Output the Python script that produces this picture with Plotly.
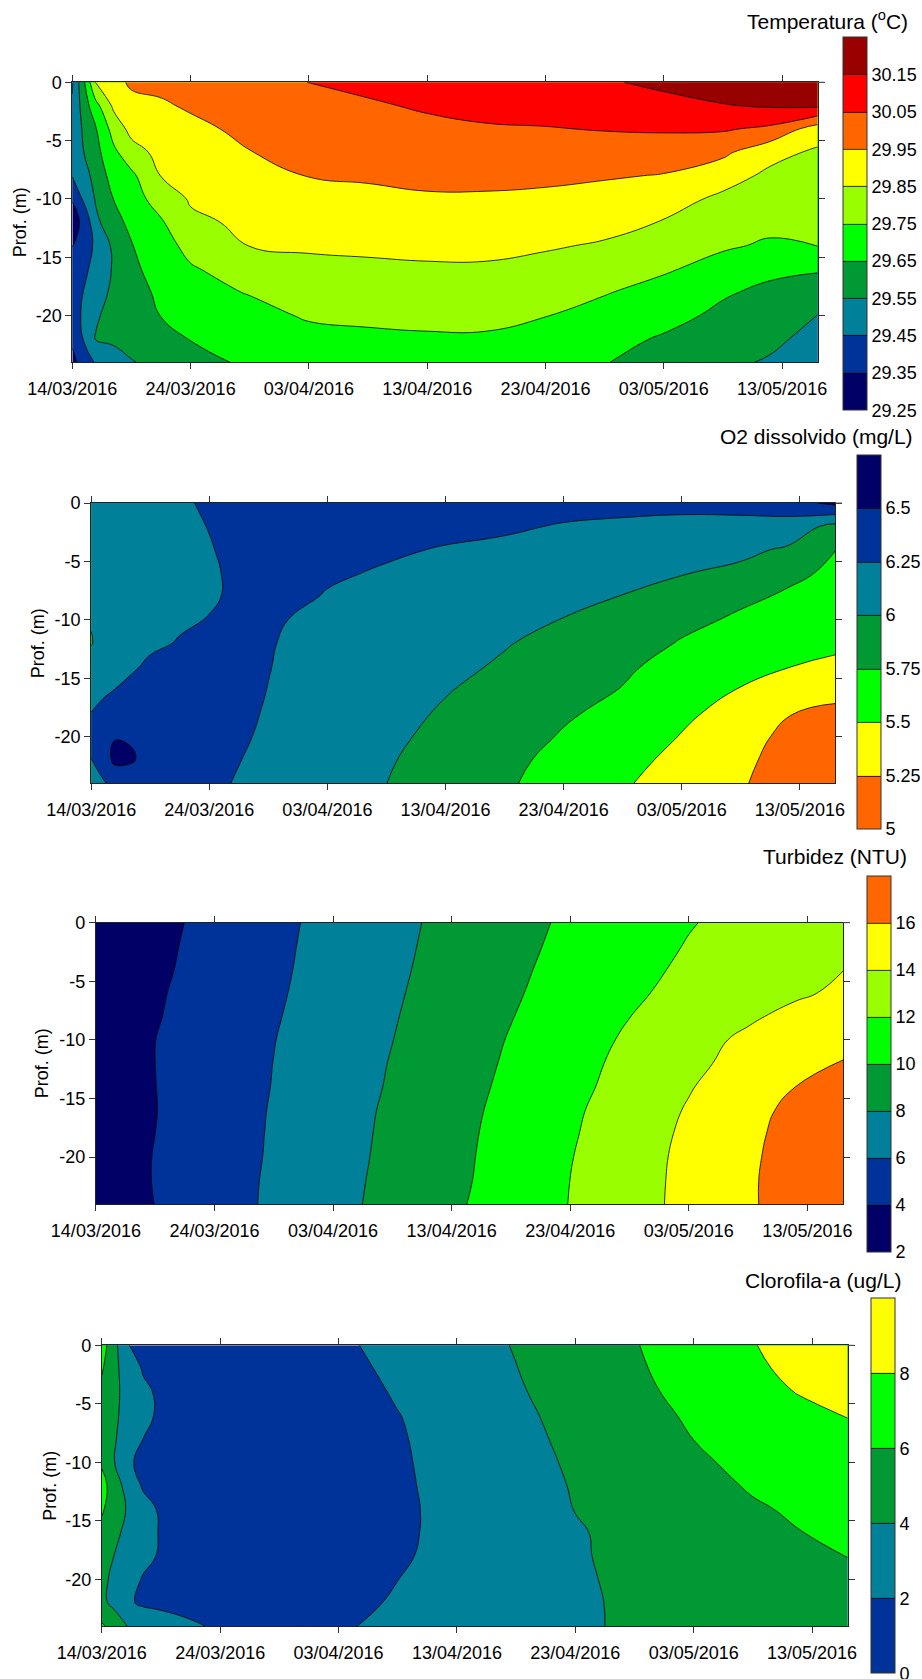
import plotly.graph_objects as go

# ---------------- data ----------------
DATES = ["2016-03-14", "2016-03-15", "2016-03-16", "2016-03-17 12:00", "2016-03-19",
         "2016-03-21 12:00", "2016-03-24", "2016-03-29", "2016-04-03", "2016-04-08",
         "2016-04-13", "2016-04-18", "2016-04-23", "2016-04-28", "2016-05-03",
         "2016-05-08", "2016-05-12", "2016-05-16"]
DEPTHS = [0, -2, -4, -6, -8, -10, -12, -14, -16, -18, -20, -22, -24]

TICK_DATES = ["2016-03-14", "2016-03-24", "2016-04-03", "2016-04-13",
              "2016-04-23", "2016-05-03", "2016-05-13"]
TICK_LABELS = ["14/03/2016", "24/03/2016", "03/04/2016", "13/04/2016",
               "23/04/2016", "03/05/2016", "13/05/2016"]
DEPTH_TICKS = [0, -5, -10, -15, -20]
DEPTH_LABELS = ["0", "-5", "-10", "-15", "-20"]

TEMP = [
    [29.44, 29.64, 29.86, 29.93, 29.96, 29.97, 29.99, 30.02, 30.051, 30.07, 30.10, 30.12, 30.13, 30.14, 30.17, 30.20, 30.21, 30.22],
    [29.46, 29.60, 29.72, 29.87, 29.93, 29.94, 29.96, 29.99, 30.03, 30.04, 30.06, 30.08, 30.09, 30.10, 30.12, 30.145, 30.16, 30.17],
    [29.47, 29.57, 29.645, 29.79, 29.88, 29.91, 29.93, 29.97, 30.00, 30.02, 30.03, 30.04, 30.045, 30.055, 30.06, 30.06, 30.03, 29.90],
    [29.47, 29.552, 29.62, 29.73, 29.81, 29.88, 29.90, 29.948, 29.975, 29.99, 30.00, 30.00, 30.01, 30.00, 30.00, 29.97, 29.88, 29.835],
    [29.455, 29.51, 29.59, 29.69, 29.73, 29.853, 29.88, 29.93, 29.952, 29.96, 29.97, 29.97, 29.97, 29.96, 29.945, 29.89, 29.83, 29.82],
    [29.355, 29.47, 29.56, 29.652, 29.71, 29.79, 29.86, 29.90, 29.92, 29.93, 29.94, 29.94, 29.93, 29.91, 29.89, 29.83, 29.80, 29.79],
    [29.32, 29.37, 29.53, 29.61, 29.68, 29.74, 29.83, 29.87, 29.89, 29.90, 29.90, 29.90, 29.90, 29.88, 29.845, 29.79, 29.77, 29.77],
    [29.348, 29.40, 29.47, 29.57, 29.645, 29.71, 29.78, 29.852, 29.86, 29.865, 29.87, 29.87, 29.86, 29.84, 29.80, 29.76, 29.74, 29.752],
    [29.38, 29.43, 29.485, 29.56, 29.63, 29.69, 29.74, 29.80, 29.83, 29.835, 29.84, 29.84, 29.82, 29.80, 29.76, 29.72, 29.67, 29.66],
    [29.40, 29.455, 29.51, 29.57, 29.61, 29.67, 29.72, 29.755, 29.79, 29.80, 29.80, 29.80, 29.79, 29.755, 29.72, 29.66, 29.63, 29.60],
    [29.40, 29.47, 29.54, 29.58, 29.60, 29.652, 29.69, 29.72, 29.76, 29.77, 29.77, 29.77, 29.752, 29.72, 29.68, 29.63, 29.60, 29.548],
    [29.37, 29.46, 29.555, 29.57, 29.58, 29.61, 29.653, 29.69, 29.72, 29.73, 29.74, 29.74, 29.72, 29.68, 29.64, 29.60, 29.57, 29.52],
    [29.32, 29.40, 29.46, 29.50, 29.545, 29.575, 29.62, 29.665, 29.69, 29.69, 29.70, 29.70, 29.69, 29.655, 29.60, 29.57, 29.54, 29.50],
]

OXY = [
    [6.15, 6.16, 6.17, 6.18, 6.19, 6.23, 6.27, 6.38, 6.36, 6.34, 6.32, 6.31, 6.30, 6.30, 6.30, 6.35, 6.40, 6.56],
    [6.13, 6.14, 6.16, 6.17, 6.19, 6.21, 6.255, 6.37, 6.34, 6.31, 6.29, 6.27, 6.24, 6.22, 6.20, 6.16, 6.14, 5.93],
    [6.10, 6.12, 6.14, 6.16, 6.18, 6.21, 6.24, 6.35, 6.31, 6.27, 6.24, 6.22, 6.17, 6.14, 6.10, 6.05, 5.97, 5.752],
    [6.07, 6.10, 6.12, 6.15, 6.17, 6.20, 6.23, 6.33, 6.27, 6.235, 6.20, 6.15, 6.11, 6.07, 6.01, 5.95, 5.80, 5.71],
    [6.03, 6.08, 6.10, 6.14, 6.17, 6.21, 6.235, 6.31, 6.24, 6.20, 6.16, 6.09, 6.05, 5.995, 5.91, 5.80, 5.72, 5.66],
    [6.01, 6.06, 6.09, 6.13, 6.18, 6.23, 6.255, 6.27, 6.21, 6.17, 6.12, 6.05, 5.995, 5.94, 5.82, 5.71, 5.64, 5.60],
    [5.99, 6.07, 6.11, 6.17, 6.22, 6.26, 6.29, 6.26, 6.19, 6.14, 6.08, 6.01, 5.95, 5.88, 5.73, 5.63, 5.56, 5.54],
    [6.08, 6.15, 6.18, 6.23, 6.28, 6.30, 6.32, 6.255, 6.17, 6.11, 6.04, 5.98, 5.90, 5.79, 5.66, 5.56, 5.505, 5.46],
    [6.20, 6.22, 6.252, 6.30, 6.33, 6.33, 6.34, 6.247, 6.15, 6.08, 6.01, 5.94, 5.85, 5.74, 5.60, 5.49, 5.37, 5.32],
    [6.252, 6.30, 6.33, 6.38, 6.38, 6.35, 6.34, 6.235, 6.13, 6.06, 5.98, 5.90, 5.78, 5.68, 5.54, 5.42, 5.26, 5.20],
    [6.28, 6.38, 6.49, 6.48, 6.40, 6.36, 6.33, 6.22, 6.11, 6.04, 5.95, 5.86, 5.73, 5.63, 5.49, 5.37, 5.18, 5.12],
    [6.248, 6.38, 6.55, 6.52, 6.40, 6.36, 6.31, 6.20, 6.09, 6.02, 5.91, 5.82, 5.67, 5.58, 5.43, 5.32, 5.13, 5.08],
    [6.22, 6.22, 6.32, 6.36, 6.38, 6.35, 6.29, 6.18, 6.07, 6.001, 5.88, 5.79, 5.62, 5.53, 5.37, 5.28, 5.10, 5.05],
]

TURB = [
    [2.47, 2.68, 2.88, 3.19, 3.50, 4.01, 4.52, 5.55, 6.55, 7.53, 8.48, 9.41, 10.29, 11.10, 11.90, 12.53, 13.02, 13.50],
    [2.59, 2.79, 2.99, 3.29, 3.60, 4.10, 4.61, 5.62, 6.61, 7.60, 8.57, 9.52, 10.43, 11.28, 12.10, 12.75, 13.27, 13.80],
    [2.68, 2.88, 3.08, 3.38, 3.68, 4.18, 4.68, 5.68, 6.68, 7.68, 8.67, 9.65, 10.59, 11.50, 12.30, 12.95, 13.48, 13.98],
    [2.82, 3.02, 3.22, 3.51, 3.80, 4.29, 4.78, 5.76, 6.77, 7.78, 8.78, 9.78, 10.76, 11.73, 12.50, 13.19, 13.75, 14.30],
    [2.89, 3.09, 3.29, 3.58, 3.88, 4.38, 4.87, 5.86, 6.87, 7.88, 8.91, 9.94, 10.96, 11.98, 12.87, 13.75, 14.47, 15.20],
    [3.00, 3.20, 3.40, 3.69, 3.99, 4.48, 4.98, 5.96, 6.97, 7.98, 9.04, 10.11, 11.18, 12.26, 13.35, 14.34, 15.02, 15.70],
    [3.00, 3.20, 3.40, 3.70, 4.002, 4.50, 5.01, 6.02, 7.05, 8.09, 9.16, 10.24, 11.36, 12.48, 13.61, 14.58, 15.29, 16.05],
    [2.94, 3.15, 3.36, 3.67, 3.98, 4.50, 5.02, 6.06, 7.12, 8.17, 9.30, 10.36, 11.50, 12.67, 13.88, 15.06, 16.001, 16.70],
    [2.87, 3.09, 3.30, 3.63, 3.96, 4.50, 5.04, 6.13, 7.20, 8.29, 9.38, 10.52, 11.69, 12.91, 14.15, 15.42, 16.45, 17.10],
    [2.91, 3.13, 3.35, 3.67, 4.001, 4.54, 5.09, 6.17, 7.26, 8.36, 9.47, 10.62, 11.81, 13.06, 14.33, 15.62, 16.60, 17.40],
    [2.99, 3.20, 3.42, 3.74, 4.06, 4.60, 5.14, 6.20, 7.30, 8.43, 9.53, 10.70, 11.93, 13.18, 14.44, 15.72, 16.70, 17.60],
    [2.97, 3.19, 3.41, 3.74, 4.07, 4.62, 5.16, 6.27, 7.38, 8.50, 9.59, 10.76, 12.01, 13.23, 14.49, 15.77, 16.80, 17.70],
    [2.87, 3.10, 3.33, 3.68, 4.02, 4.60, 5.17, 6.31, 7.44, 8.57, 9.70, 10.87, 12.05, 13.27, 14.51, 15.77, 16.80, 17.80],
]

CHLA = [
    [6.80, 4.91, 2.10, 1.65, 1.30, 1.00, 0.90, 0.90, 1.70, 2.55, 3.31, 4.09, 5.00, 5.91, 6.92, 7.94, 8.58, 9.20],
    [6.20, 4.61, 3.21, 1.85, 1.50, 1.10, 0.90, 0.90, 1.45, 2.38, 3.17, 3.97, 4.86, 5.77, 6.75, 7.76, 8.37, 8.90],
    [5.50, 4.47, 3.55, 2.33, 1.70, 1.20, 0.90, 0.85, 1.20, 2.17, 2.98, 3.83, 4.71, 5.61, 6.50, 7.41, 8.09, 8.60],
    [5.20, 4.34, 3.53, 2.35, 1.75, 1.25, 0.90, 0.85, 1.10, 1.95, 2.80, 3.66, 4.53, 5.40, 6.23, 6.94, 7.54, 8.05],
    [5.00, 4.20, 3.33, 1.99, 1.60, 1.20, 0.90, 0.85, 1.10, 1.85, 2.68, 3.54, 4.37, 5.18, 6.01, 6.62, 7.10, 7.60],
    [5.85, 4.15, 2.40, 1.55, 1.40, 1.10, 0.90, 0.85, 1.00, 1.80, 2.58, 3.42, 4.23, 4.99, 5.76, 6.39, 6.85, 7.30],
    [6.40, 5.50, 3.33, 1.80, 1.45, 1.10, 0.90, 0.85, 0.95, 1.75, 2.53, 3.33, 4.11, 4.79, 5.48, 6.14, 6.50, 7.00],
    [6.20, 5.18, 4.01, 2.64, 1.75, 1.30, 1.00, 0.85, 0.95, 1.70, 2.49, 3.26, 4.03, 4.63, 5.24, 5.84, 6.20, 6.80],
    [5.50, 4.40, 3.73, 2.73, 1.85, 1.35, 1.00, 0.85, 0.95, 1.72, 2.48, 3.17, 3.87, 4.44, 5.00, 5.55, 5.97, 6.40],
    [4.90, 4.01, 3.39, 2.48, 1.80, 1.35, 1.00, 0.85, 1.00, 1.80, 2.52, 3.20, 3.87, 4.33, 4.78, 5.22, 5.60, 6.02],
    [4.40, 3.66, 2.91, 1.85, 1.50, 1.20, 1.00, 0.85, 1.15, 1.99, 2.60, 3.20, 3.86, 4.22, 4.62, 5.02, 5.35, 5.70],
    [4.40, 3.58, 2.36, 1.70, 1.50, 1.25, 1.05, 0.95, 1.55, 2.16, 2.70, 3.25, 3.86, 4.15, 4.45, 4.78, 5.08, 5.50],
    [6.30, 5.20, 4.05, 3.55, 3.09, 2.31, 1.70, 1.20, 1.85, 2.33, 2.81, 3.30, 3.85, 4.15, 4.46, 4.77, 5.00, 5.30],
]

TEMP_TICKS = [29.25, 29.35, 29.45, 29.55, 29.65, 29.75, 29.85, 29.95, 30.05, 30.15]
TEMP_TICKTEXT = ["29.25", "29.35", "29.45", "29.55", "29.65", "29.75", "29.85", "29.95", "30.05", "30.15"]
OXY_TICKS = [5, 5.25, 5.5, 5.75, 6, 6.25, 6.5]
OXY_TICKTEXT = ["5", "5.25", "5.5", "5.75", "6", "6.25", "6.5"]
TURB_TICKS = [2, 4, 6, 8, 10, 12, 14, 16]
TURB_TICKTEXT = ["2", "4", "6", "8", "10", "12", "14", "16"]
CHLA_TICKS = [0, 2, 4, 6, 8]
CHLA_TICKTEXT = ["0", "2", "4", "6", "8"]

# ---------------- styles ----------------
NAVY, BLUE, TEAL, DKGREEN = "#000066", "#003399", "#008099", "#009933"
GREEN, LIME, YELLOW, ORANGE = "#00FF00", "#99FF00", "#FFFF00", "#FF6600"
RED, DKRED = "#FF0000", "#990000"
FONT = "Liberation Sans, Arial, sans-serif"
W, H = 922, 1679


def step_scale(colors):
    n = len(colors)
    sc = []
    for k, c in enumerate(colors):
        sc.append([k / n, c])
        sc.append([(k + 1) / n, c])
    return sc


panels = [
    dict(z=TEMP, start=29.35, end=30.15, size=0.1, zmin=29.25, zmax=30.25,
         colors=[NAVY, BLUE, TEAL, DKGREEN, GREEN, LIME, YELLOW, ORANGE, RED, DKRED],
         tv=TEMP_TICKS, tt=TEMP_TICKTEXT, title="Temperatura (<sup>o</sup>C)",
         px=(72.3, 817.6), py=(82.3, 362.3), cbx=842.7, cby=(37.3, 410.7),
         tx=910, ty=20, lx=20, ext=825),
    dict(z=OXY, start=5.25, end=6.5, size=0.25, zmin=5.0, zmax=6.75,
         colors=[ORANGE, YELLOW, GREEN, DKGREEN, TEAL, BLUE, NAVY],
         tv=OXY_TICKS, tt=OXY_TICKTEXT, title="O2 dissolvido (mg/L)",
         px=(91.2, 835.3), py=(503.0, 783.3), cbx=857.2, cby=(454.7, 828.3),
         tx=915, ty=436, lx=38, ext=842),
    dict(z=TURB, start=4, end=16, size=2, zmin=2, zmax=18,
         colors=[NAVY, BLUE, TEAL, DKGREEN, GREEN, LIME, YELLOW, ORANGE],
         tv=TURB_TICKS, tt=TURB_TICKTEXT, title="Turbidez (NTU)",
         px=(95.9, 843.0), py=(922.7, 1204.0), cbx=867.0, cby=(876.0, 1251.7),
         tx=909, ty=857, lx=42, ext=850),
    dict(z=CHLA, start=2, end=8, size=2, zmin=0, zmax=10,
         colors=[BLUE, TEAL, DKGREEN, GREEN, YELLOW],
         tv=CHLA_TICKS, tt=CHLA_TICKTEXT, title="Clorofila-a (ug/L)",
         px=(101.8, 847.6), py=(1345.3, 1626.3), cbx=871.0, cby=(1298.3, 1673.3),
         tx=903, ty=1280, lx=50, ext=854),
]

fig = go.Figure()
layout = dict(
    width=W, height=H, margin=dict(l=0, r=0, t=0, b=0, pad=0, autoexpand=False),
    paper_bgcolor="white", plot_bgcolor="white",
    font=dict(family=FONT, size=18, color="#000"),
    showlegend=False, annotations=[], shapes=[],
)

for i, p in enumerate(panels, start=1):
    xa = "x" if i == 1 else f"x{i}"
    ya = "y" if i == 1 else f"y{i}"
    fig.add_trace(go.Contour(
        x=DATES, y=DEPTHS, z=p["z"], xaxis=xa, yaxis=ya,
        autocontour=False,
        contours=dict(start=p["start"], end=p["end"], size=p["size"],
                      coloring="fill", showlines=True),
        line=dict(color="black", width=0.8, smoothing=1.3),
        zauto=False, zmin=p["zmin"], zmax=p["zmax"],
        colorscale=step_scale(p["colors"]),
        hoverinfo="skip",
        colorbar=dict(
            x=p["cbx"] / W, xanchor="left", xpad=0,
            y=1 - p["cby"][0] / H, yanchor="top", ypad=0,
            len=p["cby"][1] - p["cby"][0], lenmode="pixels",
            thickness=24, thicknessmode="pixels",
            outlinewidth=1, outlinecolor="#333",
            tickvals=p["tv"], ticktext=p["tt"], ticks="",
            ticklabeloverflow="allow",
            tickfont=dict(family=FONT, size=18, color="#000"),
        ),
    ))
    axis_common = dict(showline=True, linecolor="#222", linewidth=1, mirror="ticks",
                       ticks="outside", ticklen=6, tickcolor="#333", tickwidth=1,
                       showgrid=False, zeroline=False, automargin=False,
                       tickfont=dict(family=FONT, size=18, color="#000"))
    layout["xaxis" if i == 1 else f"xaxis{i}"] = dict(
        domain=[p["px"][0] / W, p["px"][1] / W], anchor=ya, type="date",
        range=["2016-03-14", "2016-05-16"],
        tickmode="array", tickvals=TICK_DATES, ticktext=TICK_LABELS,
        ticklabelstandoff=4, **axis_common)
    layout["yaxis" if i == 1 else f"yaxis{i}"] = dict(
        domain=[1 - p["py"][1] / H, 1 - p["py"][0] / H], anchor=xa,
        range=[-24, 0], tickmode="array", tickvals=DEPTH_TICKS, ticktext=DEPTH_LABELS,
        **axis_common)
    # small extension of the top frame line past the right edge, as in the original
    layout["shapes"].append(dict(
        type="line", xref="paper", yref="paper",
        x0=p["px"][1] / W, x1=p["ext"] / W,
        y0=1 - p["py"][0] / H, y1=1 - p["py"][0] / H,
        line=dict(color="#555", width=1)))
    layout["annotations"].append(dict(
        text=p["title"], xref="paper", yref="paper", x=p["tx"] / W, y=1 - p["ty"] / H,
        xanchor="right", yanchor="middle", showarrow=False,
        font=dict(family=FONT, size=21, color="#000")))
    layout["annotations"].append(dict(
        text="Prof. (m)", xref="paper", yref="paper", x=p["lx"] / W,
        y=1 - (p["py"][0] + p["py"][1]) / 2 / H, textangle=-90,
        xanchor="center", yanchor="middle", showarrow=False,
        font=dict(family=FONT, size=18, color="#000")))

fig.update_layout(**layout)
fig.write_html("out.html", config={"displayModeBar": False},
               post_script="document.body.style.margin='0';")
